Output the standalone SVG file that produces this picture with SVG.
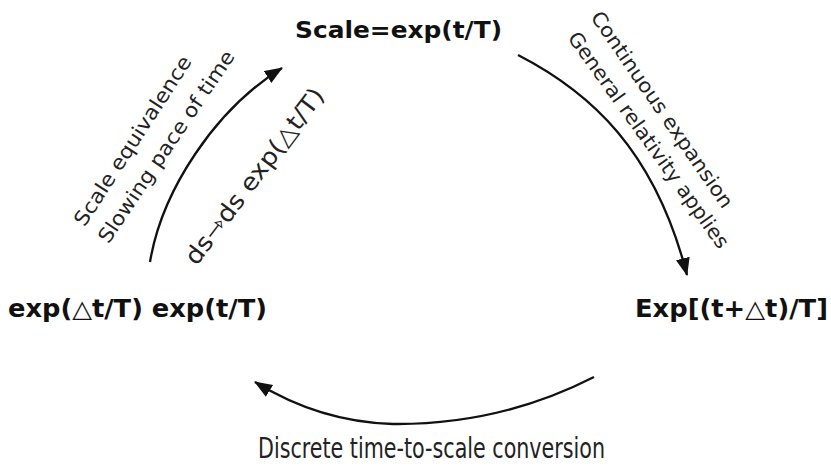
<svg xmlns="http://www.w3.org/2000/svg" width="831" height="468" viewBox="0 0 831 468">
<style>
.node{font-family:"DejaVu Sans","Liberation Sans",sans-serif;font-weight:bold;fill:#111;}
.lbl{font-family:"DejaVu Sans","Liberation Sans",sans-serif;fill:#222;}
.conn{fill:none;stroke:#111;stroke-width:2.3;}
</style>
<defs>
<marker id="ah" markerUnits="userSpaceOnUse" markerWidth="20" markerHeight="16" refX="17" refY="7" orient="auto">
<path d="M0,0 L18,7 L0,14 z" fill="#111"/>
</marker>
</defs>
<rect width="831" height="468" fill="#fff"/>
<g id="node-top"><text class="node" x="295" y="38" font-size="23" textLength="207" lengthAdjust="spacingAndGlyphs">Scale=exp(t/T)</text></g>
<g id="node-left"><text class="node" x="8" y="317" font-size="24" textLength="259" lengthAdjust="spacingAndGlyphs">exp(<tspan font-weight="normal">△</tspan>t/T) exp(t/T)</text></g>
<g id="node-right"><text class="node" x="635" y="317" font-size="24" textLength="193" lengthAdjust="spacingAndGlyphs">Exp[(t+<tspan font-weight="normal">△</tspan>t)/T]</text></g>
<g id="connectors">
<path class="conn" d="M150,262 C162,190 215,110 282,68" marker-end="url(#ah)"/>
<path class="conn" d="M518,55 C590,92 655,150 687,275" marker-end="url(#ah)"/>
<path class="conn" d="M594,377 Q500,425 393,424 Q320,422 255,382" marker-end="url(#ah)"/>
</g>
<g id="labels">
<text class="lbl" font-size="20" text-anchor="middle" transform="translate(138.5,144.5) rotate(-57)" textLength="198" lengthAdjust="spacingAndGlyphs">Scale equivalence</text>
<text class="lbl" font-size="20" text-anchor="middle" transform="translate(172,150.5) rotate(-56)" textLength="227" lengthAdjust="spacingAndGlyphs">Slowing pace of time</text>
<text class="lbl" font-size="24" text-anchor="middle" transform="translate(261,181) rotate(-53)" textLength="214" lengthAdjust="spacingAndGlyphs">ds⇾ds exp(△t/T)</text>
<text class="lbl" font-size="20" text-anchor="middle" transform="translate(656.5,113.5) rotate(55.4)" textLength="234" lengthAdjust="spacingAndGlyphs">Continuous expansion</text>
<text class="lbl" font-size="20" text-anchor="middle" transform="translate(643,144) rotate(54.4)" textLength="261" lengthAdjust="spacingAndGlyphs">General relativity applies</text>
<text class="lbl" font-size="29" x="258" y="458" textLength="347" lengthAdjust="spacingAndGlyphs">Discrete time-to-scale conversion</text>
</g>
</svg>
